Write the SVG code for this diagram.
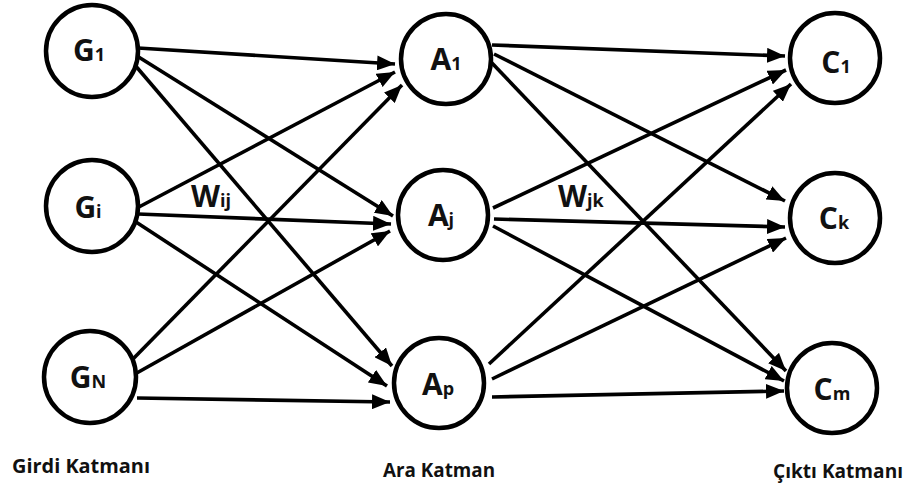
<svg xmlns="http://www.w3.org/2000/svg" width="913" height="495" viewBox="0 0 913 495">
<defs>
<marker id="ah" markerUnits="userSpaceOnUse" markerWidth="19" markerHeight="15" refX="18" refY="7.5" orient="auto">
<path d="M0,0 L18,7.5 L0,15 z" fill="#000"/>
</marker>
<style>
.n{fill:#fff;stroke:#000;stroke-width:4.5}
.c{stroke:#000;stroke-width:3.6;fill:none;marker-end:url(#ah)}
.t{font-family:"Open Sans",Lato,sans-serif;font-weight:700;font-size:30px;fill:#111;text-anchor:middle}
.s{font-size:18px}
.w{font-family:"Open Sans",Lato,sans-serif;font-weight:700;font-size:30px;fill:#111}
.ws{font-size:18px}
.lab{font-family:"Open Sans",Lato,sans-serif;font-weight:700;font-size:19px;fill:#111}
</style>
</defs>
<rect width="913" height="495" fill="#fff"/>
<g id="connectors">
<line class="c" x1="138" y1="48" x2="395" y2="64"/>
<line class="c" x1="137" y1="56" x2="393" y2="216"/>
<line class="c" x1="134" y1="64" x2="392" y2="366"/>
<line class="c" x1="137" y1="208" x2="395" y2="72"/>
<line class="c" x1="138" y1="214" x2="391" y2="224"/>
<line class="c" x1="136" y1="222" x2="387" y2="386"/>
<line class="c" x1="132" y1="360" x2="402" y2="85"/>
<line class="c" x1="135" y1="374" x2="390" y2="231"/>
<line class="c" x1="137" y1="398" x2="390" y2="402"/>
<line class="c" x1="492" y1="45" x2="785" y2="56"/>
<line class="c" x1="494" y1="54" x2="785" y2="201"/>
<line class="c" x1="491" y1="62" x2="786" y2="371"/>
<line class="c" x1="493" y1="208" x2="786" y2="70"/>
<line class="c" x1="494" y1="219" x2="785" y2="227"/>
<line class="c" x1="493" y1="226" x2="784" y2="381"/>
<line class="c" x1="489" y1="364" x2="791" y2="84"/>
<line class="c" x1="492" y1="379" x2="786" y2="238"/>
<line class="c" x1="492" y1="397" x2="784" y2="391"/>
</g>
<g id="G1"><circle class="n" cx="92" cy="51" r="46"/><text class="t" x="89" y="61">G<tspan class="s">1</tspan></text></g>
<g id="Gi"><circle class="n" cx="92" cy="206" r="46"/><text class="t" x="88" y="218">G<tspan class="s">i</tspan></text></g>
<g id="GN"><circle class="n" cx="90" cy="377" r="46"/><text class="t" x="88" y="388">G<tspan class="s">N</tspan></text></g>
<g id="A1"><circle class="n" cx="446" cy="59" r="45"/><text class="t" x="446" y="70">A<tspan class="s">1</tspan></text></g>
<g id="Aj"><circle class="n" cx="443" cy="215" r="45"/><text class="t" x="441" y="226">A<tspan class="s">j</tspan></text></g>
<g id="Ap"><circle class="n" cx="439" cy="383" r="45"/><text class="t" x="438" y="395">A<tspan class="s">p</tspan></text></g>
<g id="C1"><circle class="n" cx="835" cy="58" r="45"/><text class="t" x="836" y="73">C<tspan class="s">1</tspan></text></g>
<g id="Ck"><circle class="n" cx="835" cy="218" r="45"/><text class="t" x="834" y="229">C<tspan class="s">k</tspan></text></g>
<g id="Cm"><circle class="n" cx="832" cy="388" r="45"/><text class="t" x="832" y="400">C<tspan class="s">m</tspan></text></g>
<g id="weights">
<text class="w" x="191" y="207">W<tspan class="ws">ij</tspan></text>
<text class="w" x="558" y="207">W<tspan class="ws">jk</tspan></text>
</g>
<g id="layer-labels">
<text class="lab" x="12" y="473" textLength="138" lengthAdjust="spacingAndGlyphs">Girdi Katmanı</text>
<text class="lab" x="383" y="477" textLength="112" lengthAdjust="spacingAndGlyphs">Ara Katman</text>
<text class="lab" x="773" y="478" textLength="130" lengthAdjust="spacingAndGlyphs">Çıktı Katmanı</text>
</g>
</svg>
